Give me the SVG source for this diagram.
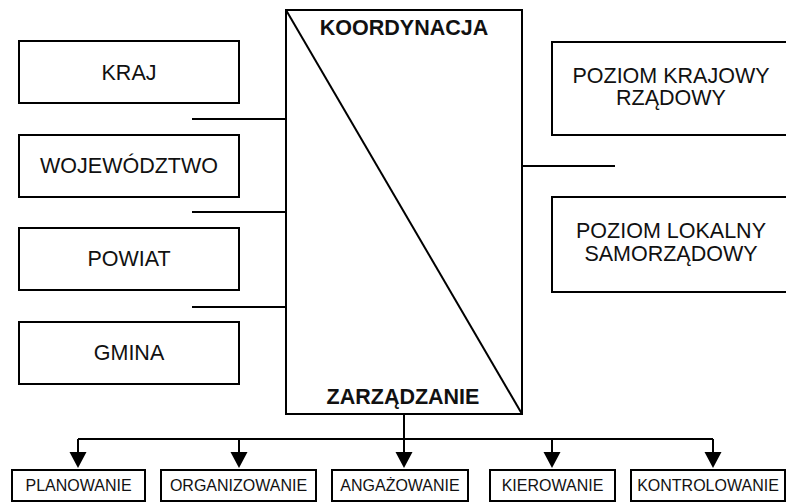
<svg xmlns="http://www.w3.org/2000/svg" width="786" height="502" viewBox="0 0 786 502">
<style>
.box{fill:#fff;stroke:#000;stroke-width:2}
.t{font-family:"Liberation Sans",Arial,sans-serif;font-size:21.5px;fill:#111;text-anchor:middle}
.b{font-family:"Liberation Sans",Arial,sans-serif;font-size:21.5px;font-weight:bold;fill:#111;text-anchor:middle}
.s{font-family:"Liberation Sans",Arial,sans-serif;font-size:16px;fill:#111;text-anchor:middle}
.ln{stroke:#000;stroke-width:2;fill:none}
</style>
<defs>
<marker id="ah" markerWidth="17" markerHeight="16" refX="8.5" refY="16" orient="auto-start-reverse" markerUnits="userSpaceOnUse" viewBox="0 0 17 16">
<path d="M0,0 L17,0 L8.5,16 Z" fill="#000" transform="rotate(0)"/>
</marker>
</defs>
<rect width="786" height="502" fill="#fff"/>
<g id="central">
<rect class="box" x="286" y="10" width="236" height="404"/>
<line class="ln" x1="286" y1="10" x2="522" y2="414"/>
<text class="b" x="404" y="35">KOORDYNACJA</text>
<text class="b" x="403" y="404">ZARZĄDZANIE</text>
</g>
<g id="kraj"><rect class="box" x="19" y="41" width="220" height="62"/><text class="t" x="129" y="80">KRAJ</text></g>
<g id="wojewodztwo"><rect class="box" x="19" y="135" width="220" height="62"/><text class="t" x="129" y="173">WOJEWÓDZTWO</text></g>
<g id="powiat"><rect class="box" x="19" y="228" width="220" height="62"/><text class="t" x="129" y="266">POWIAT</text></g>
<g id="gmina"><rect class="box" x="19" y="322" width="220" height="62"/><text class="t" x="129" y="360">GMINA</text></g>
<g id="krajowy"><rect class="box" x="552" y="42" width="240" height="93"/><text class="t" x="671" y="83">POZIOM KRAJOWY</text><text class="t" x="671" y="105">RZĄDOWY</text></g>
<g id="lokalny"><rect class="box" x="552" y="197" width="240" height="95"/><text class="t" x="671" y="238">POZIOM LOKALNY</text><text class="t" x="671" y="261">SAMORZĄDOWY</text></g>
<g id="planowanie"><rect class="box" x="12" y="470" width="133" height="31"/><text class="s" x="78.5" y="491">PLANOWANIE</text></g>
<g id="organizowanie"><rect class="box" x="161" y="470" width="155" height="31"/><text class="s" x="238.5" y="491">ORGANIZOWANIE</text></g>
<g id="angazowanie"><rect class="box" x="332" y="470" width="136" height="31"/><text class="s" x="400" y="491">ANGAŻOWANIE</text></g>
<g id="kierowanie"><rect class="box" x="490" y="470" width="125" height="31"/><text class="s" x="552.5" y="491">KIEROWANIE</text></g>
<g id="kontrolowanie"><rect class="box" x="631" y="470" width="154" height="31"/><text class="s" x="708" y="491">KONTROLOWANIE</text></g>
<g id="connectors">
<line class="ln" x1="192" y1="119" x2="286" y2="119"/>
<line class="ln" x1="192" y1="212" x2="286" y2="212"/>
<line class="ln" x1="192" y1="307" x2="286" y2="307"/>
<line class="ln" x1="522" y1="166" x2="615" y2="166"/>
<line class="ln" x1="404" y1="414" x2="404" y2="439" stroke-width="3"/>
<line class="ln" x1="78" y1="439" x2="713" y2="439"/>
<path d="M78,439 L78,452 M239,439 L239,452 M404,439 L404,452 M552,439 L552,452 M713,439 L713,452" class="ln"/>
<path d="M69.5,452 L86.5,452 L78,468 Z M230.5,452 L247.5,452 L239,468 Z M395.5,452 L412.5,452 L404,468 Z M543.5,452 L560.5,452 L552,468 Z M704.5,452 L721.5,452 L713,468 Z" fill="#000"/>
</g>
</svg>
